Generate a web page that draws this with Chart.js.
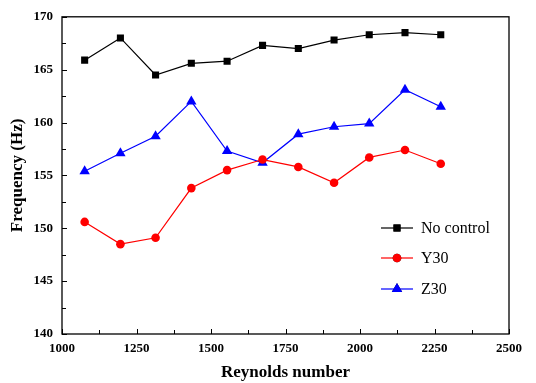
<!DOCTYPE html>
<html>
<head>
<meta charset="utf-8">
<script src="https://cdn.jsdelivr.net/npm/chart.js@4/dist/chart.umd.min.js"></script>
<style>
  body { margin: 0; background: #fff; }
  canvas { display: block; }
</style>
</head>
<body>
<canvas id="freq-chart" width="536" height="383"></canvas>
<script>
// Reynolds numbers of the runs
var reynolds = [1076, 1196, 1314, 1434, 1554, 1673, 1793, 1913, 2031, 2151, 2271];

var noControl = [165.9, 168.0, 164.5, 165.6, 165.8, 167.3, 167.0, 167.8, 168.3, 168.5, 168.3];
var y30 = [150.6, 148.5, 149.1, 153.8, 155.5, 156.5, 155.8, 154.3, 156.7, 157.4, 156.1];
var z30 = [155.4, 157.1, 158.7, 162.0, 157.3, 156.2, 158.9, 159.6, 159.9, 163.1, 161.5];

var seriesNames = ["No control", "Y30", "Z30"];
var xTicks = [1000, 1250, 1500, 1750, 2000, 2250, 2500];
var yTicks = [140, 145, 150, 155, 160, 165, 170];

function toPoints(ys) {
    return reynolds.map(function (x, i) { return { x: x, y: ys[i] }; });
}

// frame + inward tick marks, like the origin plot
var framePlugin = {
    id: 'frame',
    afterDraw: function (chart) {
        var ctx = chart.ctx;
        var a = chart.chartArea;
        var xs = chart.scales.x, ys = chart.scales.y;
        ctx.save();
        ctx.strokeStyle = '#000';
        ctx.lineWidth = 1.3;
        ctx.strokeRect(a.left, a.top, a.right - a.left, a.bottom - a.top);
        ctx.lineWidth = 1;
        ctx.beginPath();
        for (var v = 1000; v <= 2500; v += 125) {
            var px = Math.round(xs.getPixelForValue(v)) + 0.5;
            var len = (v % 250 === 0) ? 5 : 4;
            ctx.moveTo(px, a.bottom);
            ctx.lineTo(px, a.bottom - len);
        }
        for (var w = 140; w <= 170; w += 2.5) {
            var py = Math.round(ys.getPixelForValue(w)) + 0.5;
            var l2 = (w % 5 === 0) ? 5 : 4;
            ctx.moveTo(a.left, py);
            ctx.lineTo(a.left + l2, py);
        }
        ctx.stroke();
        ctx.restore();
    }
};

// legend inside the plot, lower right
var legendPlugin = {
    id: 'insideLegend',
    afterDraw: function (chart) {
        var ctx = chart.ctx;
        var rows = [228, 258, 289];
        ctx.save();
        chart.data.datasets.forEach(function (ds, i) {
            var y = rows[i];
            ctx.strokeStyle = ds.borderColor;
            ctx.lineWidth = 1.2;
            ctx.beginPath();
            ctx.moveTo(381, y);
            ctx.lineTo(413, y);
            ctx.stroke();
            Chart.helpers.drawPoint(ctx, {
                pointStyle: ds.pointStyle,
                radius: ds.pointRadius,
                rotation: 0,
                borderWidth: 0
            }, 397, y);
            ctx.fillStyle = ds.pointBackgroundColor;
            ctx.fill();
            ctx.fillStyle = '#000';
            ctx.font = '16px "Liberation Serif", "Times New Roman", serif';
            ctx.textBaseline = 'middle';
            ctx.textAlign = 'left';
            ctx.fillText(ds.label, 421, y + 1);
        });
        ctx.restore();
    }
};

var tickFont = { family: '"Liberation Serif", "Times New Roman", serif', size: 13, weight: 'bold' };
var titleFont = { family: '"Liberation Serif", "Times New Roman", serif', size: 17, weight: 'bold' };

new Chart(document.getElementById('freq-chart'), {
    type: 'line',
    data: {
        datasets: [
            {
                label: seriesNames[0],
                data: toPoints(noControl),
                borderColor: '#000000',
                backgroundColor: '#000000',
                pointBackgroundColor: '#000000',
                pointStyle: 'rect',
                pointRadius: 5,
                borderWidth: 1.2,
                pointBorderWidth: 0
            },
            {
                label: seriesNames[1],
                data: toPoints(y30),
                borderColor: '#ff0000',
                backgroundColor: '#ff0000',
                pointBackgroundColor: '#ff0000',
                pointStyle: 'circle',
                pointRadius: 4.3,
                borderWidth: 1.2,
                pointBorderWidth: 0
            },
            {
                label: seriesNames[2],
                data: toPoints(z30),
                borderColor: '#0000ff',
                backgroundColor: '#0000ff',
                pointBackgroundColor: '#0000ff',
                pointStyle: 'triangle',
                pointRadius: 6,
                borderWidth: 1.2,
                pointBorderWidth: 0
            }
        ]
    },
    options: {
        responsive: false,
        animation: false,
        layout: { padding: { left: 0, top: 15, right: 27, bottom: 0 } },
        plugins: {
            legend: { display: false },
            tooltip: { enabled: false }
        },
        scales: {
            x: {
                type: 'linear',
                min: 1000,
                max: 2500,
                afterFit: function (s) { s.height = 49; },
                afterBuildTicks: function (s) { s.ticks = xTicks.map(function (v) { return { value: v }; }); },
                grid: { display: false, drawTicks: false },
                border: { display: false },
                ticks: {
                    color: '#000', font: tickFont, padding: 7, maxRotation: 0,
                    callback: function (v) { return String(v); }
                },
                title: { display: true, text: 'Reynolds number', color: '#000', font: titleFont, padding: { top: 0, bottom: 0 } }
            },
            y: {
                min: 140,
                max: 170,
                afterFit: function (s) { s.width = 62; },
                afterBuildTicks: function (s) { s.ticks = yTicks.map(function (v) { return { value: v }; }); },
                grid: { display: false, drawTicks: false },
                border: { display: false },
                ticks: {
                    color: '#000', font: tickFont, padding: 9,
                    callback: function (v) { return String(v); }
                },
                title: { display: true, text: 'Frequency (Hz)', color: '#000', font: titleFont, padding: { top: 7, bottom: 0 } }
            }
        }
    },
    plugins: [framePlugin, legendPlugin]
});
</script>
</body>
</html>
